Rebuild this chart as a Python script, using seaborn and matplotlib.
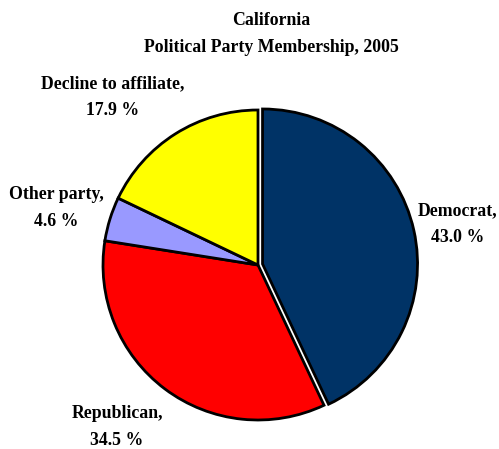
import matplotlib
matplotlib.use("Agg")
import matplotlib.pyplot as plt
import seaborn as sns

parties = ["Democrat", "Republican", "Other party", "Decline to affiliate"]
shares = [43.0, 34.5, 4.6, 17.9]
colors = ["#003366", "#FF0000", "#9999FF", "#FFFF00"]
explode = [0.03, 0, 0, 0]

sns.set_theme(style="white")
plt.rcParams["font.family"] = ["Liberation Serif", "DejaVu Serif"]

W, H = 499, 449
fig = plt.figure(figsize=(W / 100, H / 100), dpi=100)
cx, cy, R = 258, 265, 155
ax = fig.add_axes([(cx - R) / W, 1 - (cy + R) / H, 2 * R / W, 2 * R / H])
ax.pie(shares, colors=sns.color_palette(colors), explode=explode, startangle=90,
       counterclock=False, radius=1.0,
       wedgeprops=dict(edgecolor="black", linewidth=2.0))
ax.set_xlim(-1, 1)
ax.set_ylim(-1, 1)
ax.set_aspect("auto")
ax.axis("off")

fs = 12.8
LS = 1.75

def ftext(px, py, s):
    fig.text(px / W, 1 - py / H, s, ha="center", va="center", fontsize=fs,
             fontweight="bold", color="black", linespacing=LS)

ftext(271, 34, "California\nPolitical Party Membership, 2005")

label_pos = [(458, 224), (117, 427), (56, 208), (113, 97)]
for name, val, (px, py) in zip(parties, shares, label_pos):
    ftext(px, py, f"{name},\n{val:.1f} %")

fig.savefig("out.png", dpi=100, facecolor="white")
